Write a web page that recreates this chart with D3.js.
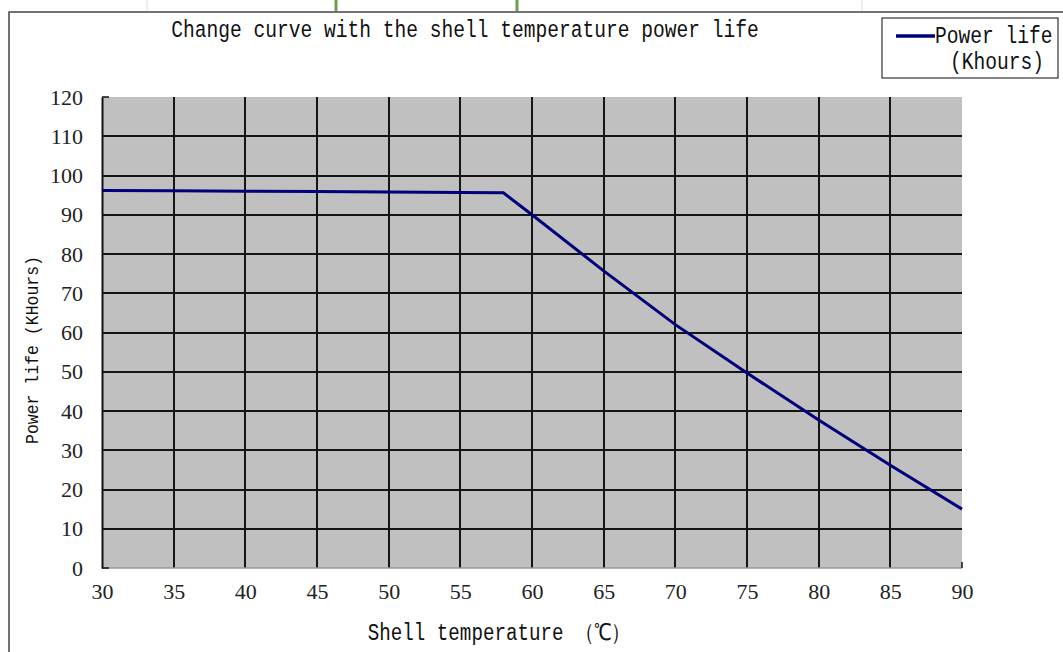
<!DOCTYPE html>
<html lang="en">
<head>
<meta charset="UTF-8">
<title>Power life</title>
<style>
body { margin:0; background:#fff; }
text { font-family: "Liberation Mono", "DejaVu Sans Mono", monospace; fill:#111; }
.tick text { font-family: "Liberation Serif", serif; fill:#222; }
.grid line { stroke:#151515; stroke-width:2; shape-rendering:crispEdges; }
</style>
</head>
<body>
<script src="https://cdn.jsdelivr.net/npm/d3@7"></script>
<script>
var width=1063,height=652
var padding={left:102,right:101,top:97,bottom:84}

// shell temperature (C) and power life (Khours)
var temps=[30,35,40,45,50,55,58,60,65,70,75,80,85,90]
var life=[96.2,96.1,96,95.9,95.8,95.7,95.6,90,75.7,62,49.7,37.7,26.2,15]
var xTicks=[30,35,40,45,50,55,60,65,70,75,80,85,90]
var yTicks=[0,10,20,30,40,50,60,70,80,90,100,110,120]

var title='Change curve with the shell temperature power life'
var xTitle='Shell temperature （℃）'
var yTitle='Power life (KHours)'
var legendLines=['Power life','(Khours)']

var svg=d3.select('body').append('svg').attr('width',width).attr('height',height)
svg.append('rect').attr('width',width).attr('height',height).attr('fill','#fff')

// faint sheet marks above the chart frame
svg.append('line').attr('x1',147).attr('x2',147).attr('y1',0).attr('y2',11).attr('stroke','#ddd')
svg.append('line').attr('x1',862).attr('x2',862).attr('y1',0).attr('y2',11).attr('stroke','#ddd')
;[336,517].forEach(function(xx){
  svg.append('line').attr('x1',xx).attr('x2',xx).attr('y1',0).attr('y2',11).attr('stroke','#6aa04a').attr('stroke-width',3)
})

// chart frame
svg.append('path').attr('d','M9,652 L9,12 L1063,12').attr('fill','none').attr('stroke','#444').attr('stroke-width',1.5)

var x=d3.scaleLinear().domain([30,90]).range([padding.left,width-padding.right])
var y=d3.scaleLinear().domain([0,120]).range([height-padding.bottom,padding.top])

svg.append('rect').attr('x',x(30)).attr('y',y(120))
   .attr('width',x(90)-x(30)).attr('height',y(0)-y(120)).attr('fill','#c0c0c0')

var grid=svg.append('g').attr('class','grid')
grid.selectAll('.h').data(yTicks.filter(function(d){return d>0&&d<120})).enter().append('line')
   .attr('x1',x(30)).attr('x2',x(90)).attr('y1',function(d){return Math.round(y(d))}).attr('y2',function(d){return Math.round(y(d))})
grid.selectAll('.v').data(xTicks.filter(function(d){return d>30&&d<90})).enter().append('line')
   .attr('y1',y(0)).attr('y2',y(120)).attr('x1',function(d){return Math.round(x(d))}).attr('x2',function(d){return Math.round(x(d))})

// bottom edge and corner ticks
svg.append('line').attr('x1',x(30)).attr('x2',x(90)).attr('y1',y(0)).attr('y2',y(0)).attr('stroke','#999').attr('stroke-width',1.5)
svg.append('line').attr('x1',x(90)).attr('x2',x(90)).attr('y1',y(0)).attr('y2',y(0)-6).attr('stroke','#111').attr('stroke-width',1.5)
svg.append('line').attr('x1',x(30)).attr('x2',x(30)+7).attr('y1',y(0)).attr('y2',y(0)).attr('stroke','#111').attr('stroke-width',1.5)
svg.append('line').attr('x1',x(30)).attr('x2',x(30)+7).attr('y1',y(120)).attr('y2',y(120)).attr('stroke','#111').attr('stroke-width',1.5)

var yAxis=d3.axisLeft(y).tickValues(yTicks).tickSize(0).tickPadding(19)
var gy=svg.append('g').attr('transform','translate('+x(30)+',0)').call(yAxis)
gy.select('.domain').attr('stroke','#111').attr('stroke-width',2)
gy.selectAll('text').attr('font-size',22)

var xAxis=d3.axisBottom(x).tickValues(xTicks).tickSize(0).tickPadding(15)
var gx=svg.append('g').attr('transform','translate(0,'+y(0)+')').call(xAxis)
gx.select('.domain').remove()
gx.selectAll('text').attr('font-size',22)

var line=d3.line().x(function(d,i){return x(temps[i])}).y(function(d){return y(d)})
svg.append('path').attr('d',line(life)).attr('fill','none').attr('stroke','#00007a').attr('stroke-width',3)

svg.append('text').attr('transform','translate(465,37) scale(1,1.2)').attr('text-anchor','middle').attr('font-size',19.6).text(title)
svg.append('text').attr('transform','translate(499,640) scale(1,1.2)').attr('text-anchor','middle').attr('font-size',19.2).text(xTitle)
svg.append('text').attr('transform','translate(38,350) rotate(-90) scale(1,1.15)').attr('text-anchor','middle').attr('font-size',16.5).text(yTitle)

// legend
var lg=svg.append('g')
lg.append('rect').attr('x',882).attr('y',18).attr('width',176).attr('height',60).attr('fill','#fff').attr('stroke','#333').attr('stroke-width',1.2)
lg.append('line').attr('x1',896).attr('x2',935).attr('y1',36).attr('y2',36).attr('stroke','#00007a').attr('stroke-width',3.5)
lg.append('text').attr('transform','translate(935,43) scale(1,1.2)').attr('font-size',19.6).text(legendLines[0])
lg.append('text').attr('transform','translate(997,69) scale(1,1.2)').attr('text-anchor','middle').attr('font-size',19.6).text(legendLines[1])
</script>
</body>
</html>
